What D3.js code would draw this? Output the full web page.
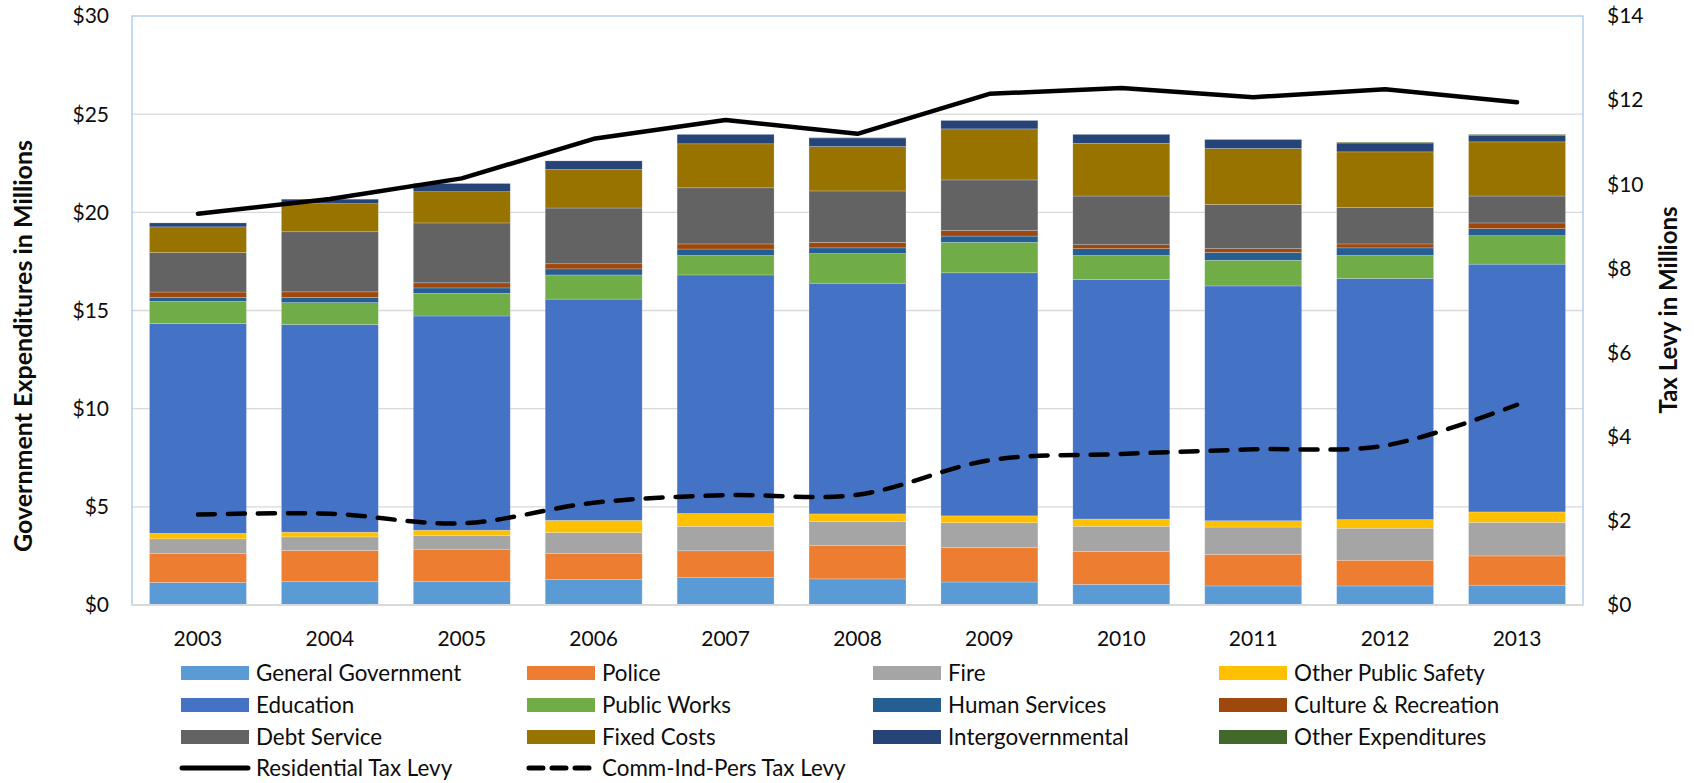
<!DOCTYPE html>
<html><head><meta charset="utf-8">
<script src="https://cdn.jsdelivr.net/npm/d3@7"></script>
<style>
html,body{margin:0;padding:0;background:#fff;}
svg text{font-family:Lato,"Open Sans",sans-serif;fill:#0d0d0d;}
</style>
</head><body>
<svg id="chart" width="1694" height="783"></svg>
<script>
const years = ["2003","2004","2005","2006","2007","2008","2009","2010","2011","2012","2013"];
const generalGovernment = [1.15,1.21,1.21,1.29,1.39,1.33,1.17,1.05,0.97,0.97,1.01];
const police            = [1.47,1.57,1.63,1.33,1.37,1.71,1.75,1.67,1.61,1.31,1.49];
const fire              = [0.75,0.69,0.69,1.07,1.25,1.21,1.27,1.29,1.39,1.63,1.71];
const otherPublicSafety = [0.28,0.24,0.28,0.62,0.65,0.39,0.35,0.37,0.32,0.44,0.53];
const education         = [10.68,10.58,10.91,11.27,12.15,11.75,12.38,12.19,11.96,12.28,12.62];
const publicWorks       = [1.13,1.11,1.15,1.23,0.99,1.51,1.55,1.23,1.31,1.17,1.45];
const humanServices     = [0.20,0.27,0.28,0.31,0.33,0.29,0.32,0.35,0.40,0.39,0.36];
const cultureRecreation = [0.28,0.28,0.26,0.26,0.26,0.28,0.28,0.20,0.19,0.20,0.29];
const debtService       = [2.01,3.06,3.05,2.84,2.86,2.62,2.58,2.48,2.25,1.85,1.37];
const fixedCosts        = [1.31,1.43,1.59,1.96,2.24,2.26,2.60,2.68,2.85,2.84,2.76];
const intergovernmental = [0.20,0.23,0.42,0.44,0.48,0.44,0.43,0.46,0.46,0.45,0.34];
const otherExpenditures = [0,0,0,0,0,0.02,0,0,0,0.04,0.04];
const residentialTaxLevy = [9.30,9.65,10.14,11.08,11.53,11.20,12.15,12.29,12.07,12.26,11.95];
const commIndPersTaxLevy = [2.15,2.17,1.94,2.43,2.61,2.62,3.44,3.59,3.70,3.79,4.76];
const leftTicks = [0,5,10,15,20,25,30];
const rightTicks = [0,2,4,6,8,10,12,14];

const seriesNames = ["General Government","Police","Fire","Other Public Safety","Education","Public Works","Human Services","Culture & Recreation","Debt Service","Fixed Costs","Intergovernmental","Other Expenditures"];
const seriesValues = [generalGovernment,police,fire,otherPublicSafety,education,publicWorks,humanServices,cultureRecreation,debtService,fixedCosts,intergovernmental,otherExpenditures];
const colors = ["#5B9BD5","#ED7D31","#A5A5A5","#FFC000","#4472C4","#70AD47","#255E91","#9E480E","#636363","#997300","#264478","#43682B"];

const svg = d3.select("#chart");
const L = 132, R = 1583, T = 16, B = 605;
const x = d3.scaleBand().domain(years).range([L,R]).paddingInner(0.265).paddingOuter(0.1325);
const yL = d3.scaleLinear().domain([0,30]).range([B,T]);
const yR = d3.scaleLinear().domain([0,14]).range([B,T]);

// gridlines
svg.append("g").selectAll("line").data(leftTicks.filter(d=>d>0 && d<30)).join("line")
  .attr("x1",L).attr("x2",R).attr("y1",d=>yL(d)).attr("y2",d=>yL(d))
  .attr("stroke","#d9d9d9").attr("stroke-width",1.3);

// stacked bars
const table = years.map((yr,i)=>{const o={year:yr}; seriesNames.forEach((s,k)=>o[s]=seriesValues[k][i]); return o;});
const stack = d3.stack().keys(seriesNames)(table);
svg.append("g").selectAll("g").data(stack).join("g")
  .attr("fill",(d,i)=>colors[i])
  .selectAll("rect").data(d=>d).join("rect")
  .attr("x",d=>x(d.data.year)).attr("width",x.bandwidth())
  .attr("y",d=>yL(d[1])).attr("height",d=>Math.max(0,yL(d[0])-yL(d[1])))
  .attr("stroke","#ffffff").attr("stroke-opacity",0.35).attr("stroke-width",0.6);

// plot border
svg.append("rect").attr("x",L).attr("y",T).attr("width",R-L).attr("height",B-T)
  .attr("fill","none").attr("stroke","#9dc3e6").attr("stroke-width",1.2);
svg.append("line").attr("x1",L).attr("x2",R).attr("y1",B).attr("y2",B)
  .attr("stroke","#d9d9d9").attr("stroke-width",2);

// lines
const cx = d=>x(d)+x.bandwidth()/2;
const lineGen = (vals, curve) => d3.line().curve(curve)
  .x((d,i)=>cx(years[i])).y(d=>yR(d))(vals);
svg.append("path").attr("d",lineGen(residentialTaxLevy, d3.curveLinear)).attr("fill","none")
  .attr("stroke","#000").attr("stroke-width",4.5).attr("stroke-linecap","round").attr("stroke-linejoin","round");
svg.append("path").attr("d",lineGen(commIndPersTaxLevy, d3.curveCatmullRom.alpha(0.5))).attr("fill","none")
  .attr("stroke","#000").attr("stroke-width",4.5).attr("stroke-linecap","round")
  .attr("stroke-dasharray","17,13");

// axes labels
const fs = 21, lfs = 22.4;
svg.append("g").selectAll("text").data(leftTicks).join("text")
  .attr("x",109).attr("y",d=>yL(d)).attr("dy","0.35em").attr("text-anchor","end")
  .style("font-size",fs+"px").text(d=>"$"+d);
svg.append("g").selectAll("text").data(rightTicks).join("text")
  .attr("x",1607).attr("y",d=>yR(d)).attr("dy","0.35em").attr("text-anchor","start")
  .style("font-size",fs+"px").text(d=>"$"+d);
svg.append("g").selectAll("text").data(years).join("text")
  .attr("x",d=>cx(d)).attr("y",639).attr("dy","0.35em").attr("text-anchor","middle")
  .style("font-size",fs+"px").text(d=>d);

svg.append("text").attr("transform","translate(23,346) rotate(-90)").attr("dy","0.35em")
  .attr("text-anchor","middle").style("font-size","25px").style("font-weight","bold")
  .text("Government Expenditures in Millions");
svg.append("text").attr("transform","translate(1669,310) rotate(-90)").attr("dy","0.35em")
  .attr("text-anchor","middle").style("font-size","24px").style("font-weight","bold")
  .text("Tax Levy in Millions");

// legend
const colX = [181,527,873,1219];
const rowY = [673,705,737,768];
const lg = svg.append("g");
seriesNames.forEach((s,i)=>{
  const cxl = colX[i%4], cy = rowY[Math.floor(i/4)];
  lg.append("rect").attr("x",cxl).attr("y",cy-7).attr("width",68).attr("height",14).attr("fill",colors[i]);
  lg.append("text").attr("x",cxl+75).attr("y",cy).attr("dy","0.35em").style("font-size",lfs+"px").text(s);
});
const lineLegend = [{name:"Residential Tax Levy",dash:null},{name:"Comm-Ind-Pers Tax Levy",dash:"14,9"}];
lineLegend.forEach((l,i)=>{
  const cxl = colX[i], cy = rowY[3];
  const ln = lg.append("line").attr("x1",cxl+1).attr("x2",cxl+67).attr("y1",cy).attr("y2",cy)
    .attr("stroke","#000").attr("stroke-width",5).attr("stroke-linecap","round");
  if(l.dash) ln.attr("x1",cxl+2).attr("stroke-dasharray",l.dash);
  lg.append("text").attr("x",cxl+75).attr("y",cy).attr("dy","0.35em").style("font-size",lfs+"px").text(l.name);
});
</script>
</body></html>
